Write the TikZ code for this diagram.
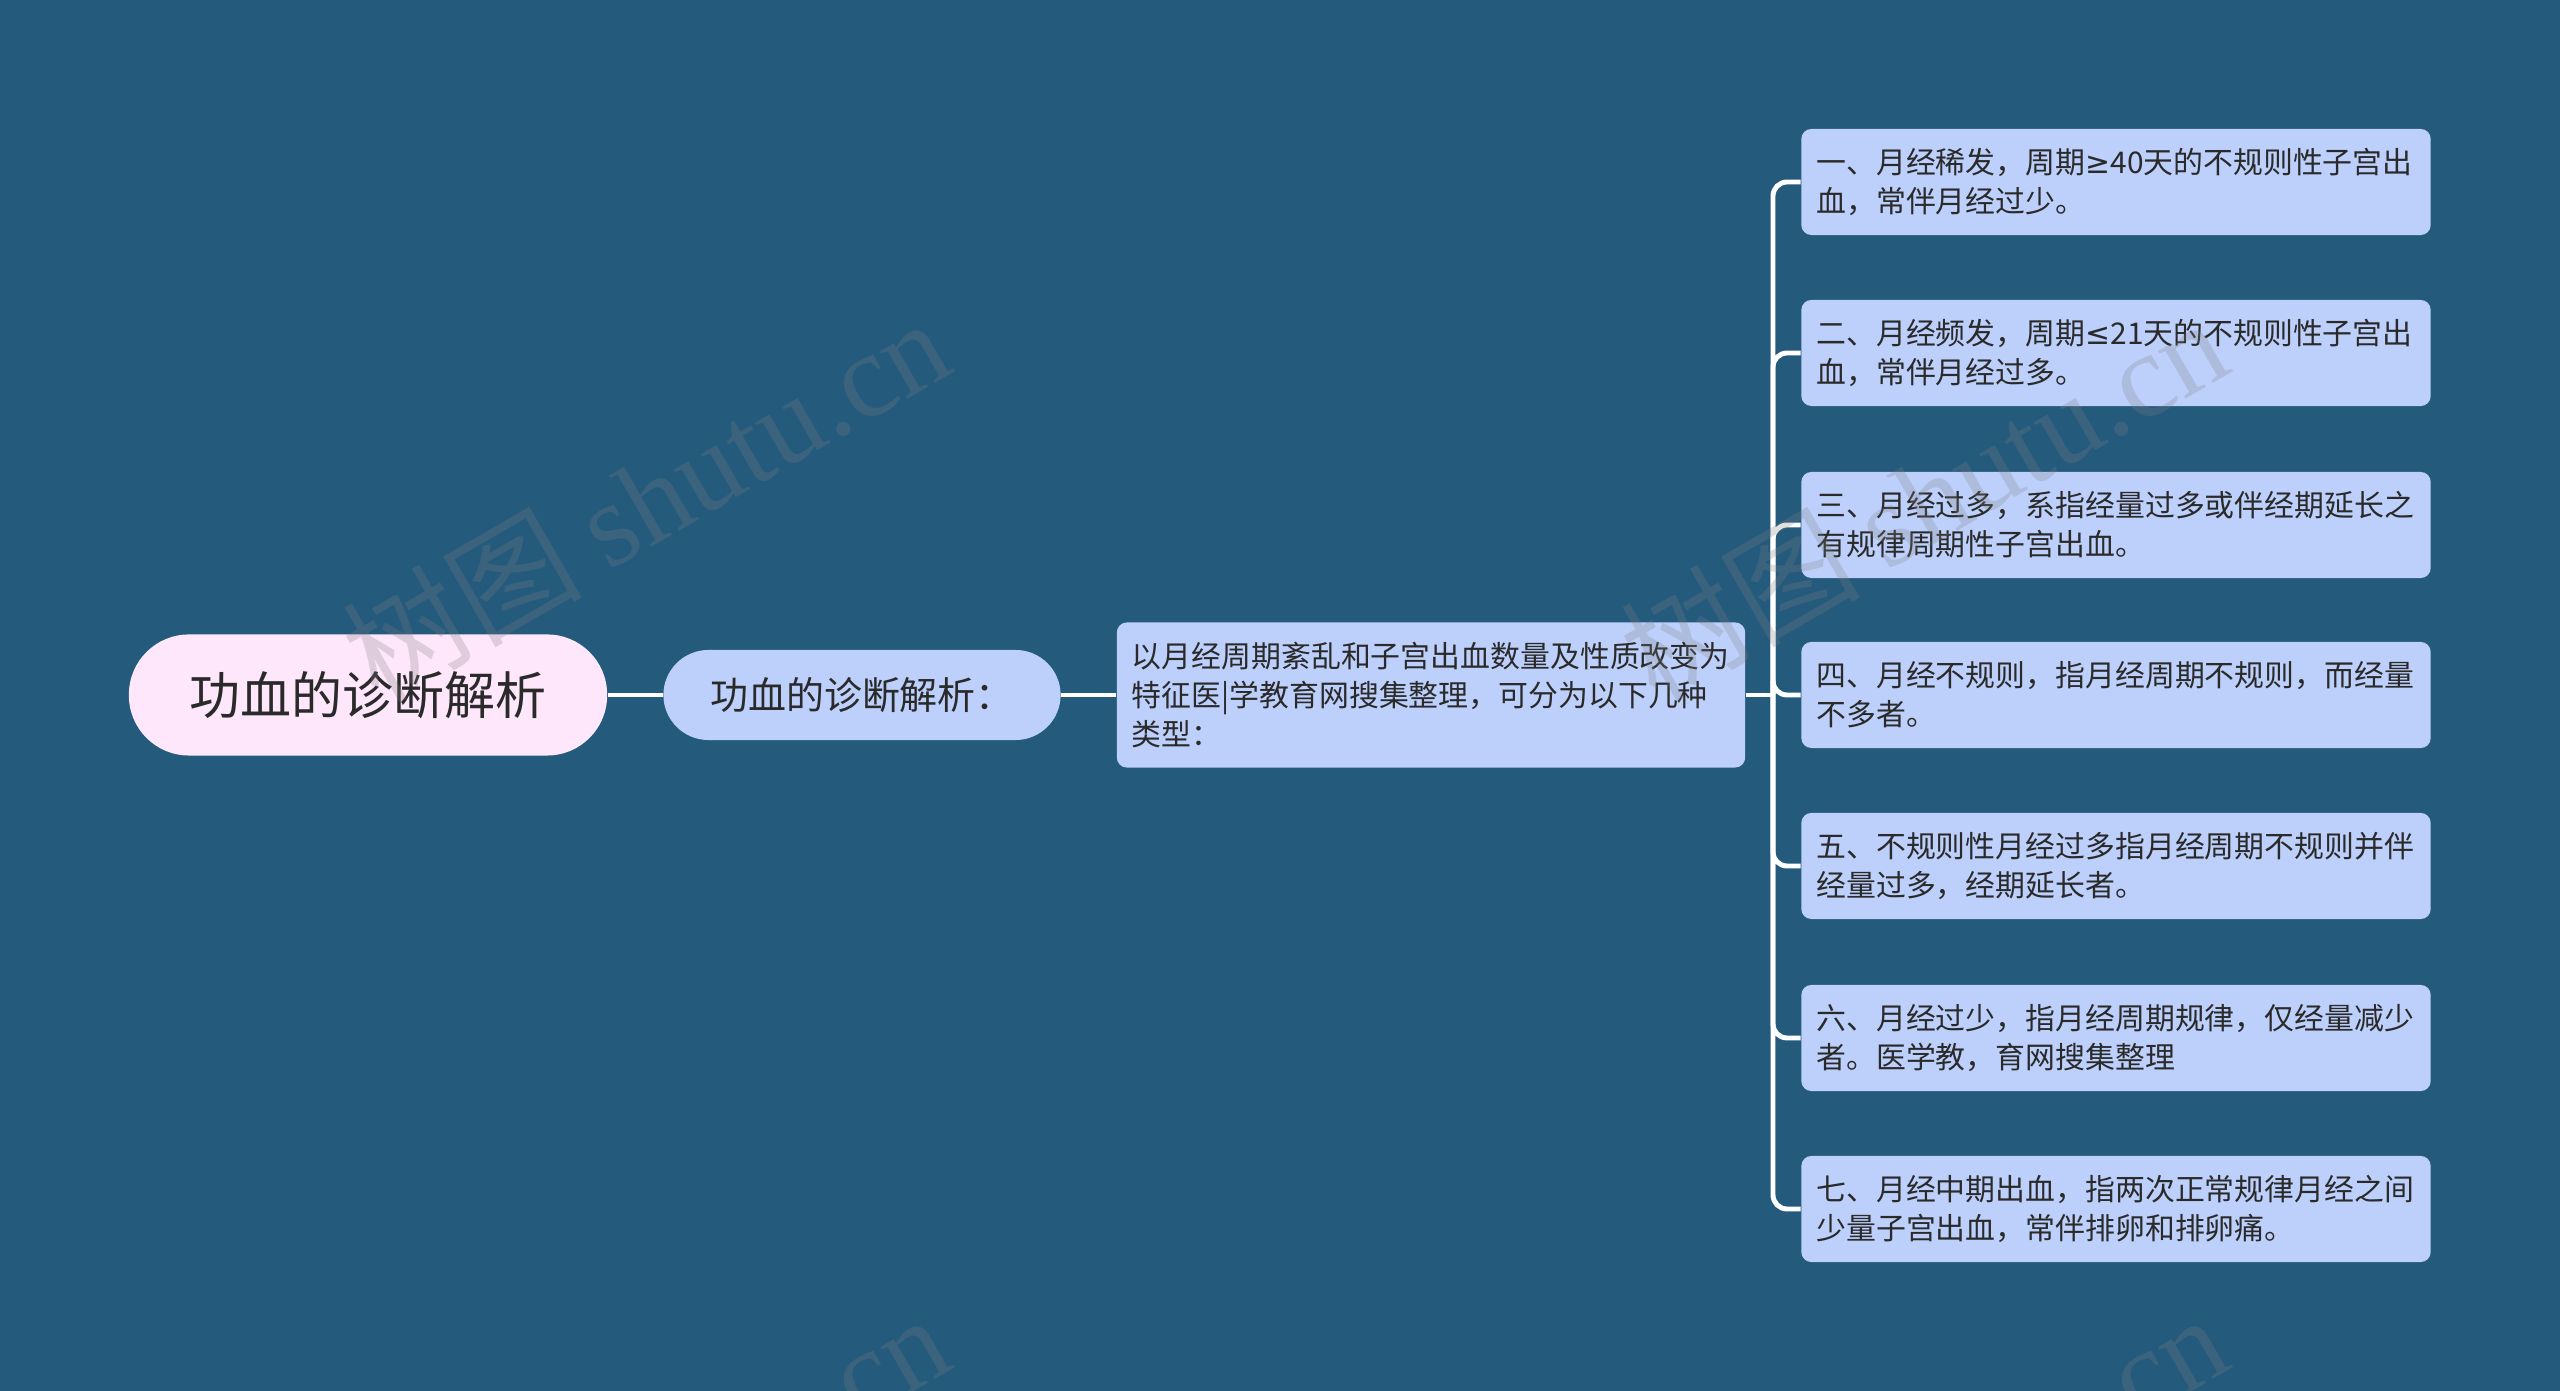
\documentclass[tikz,border=0pt]{standalone}
\usepackage{fontspec}
\setmainfont{Noto Sans CJK SC}
\newfontfamily\wmfont{Liberation Serif}
\newfontfamily\wmcjk{Noto Sans CJK SC}
\newfontfamily\symfont{DejaVu Sans}
\definecolor{bgblue}{HTML}{245A7C}
\definecolor{leafblue}{HTML}{BDD0FB}
\definecolor{rootpink}{HTML}{FEE6FB}
\definecolor{txt}{HTML}{2A2A2A}
\begin{document}
\begin{tikzpicture}[x=0.01cm,y=0.01cm,
  conn/.style={draw=white,line width=1.4pt},
  leaf/.style={fill=leafblue,rounded corners=0.1cm,text width=5.99cm,inner xsep=0.15cm,
    minimum height=1.06cm,align=left,text=txt,font=\fontsize{8.5pt}{11pt}\selectfont},
  wm/.style={text=gray,opacity=0.25,rotate=30,font=\fontsize{34pt}{34pt}\selectfont}]
%canvas
\fill[bgblue](0,0)rectangle(2560,1391);
\clip(0,0)rectangle(2560,1391);
%main nodes
\node[fill=rootpink,rounded corners=0.6cm,minimum width=4.78cm,minimum height=1.21cm,
  text=txt,font=\fontsize{14.5pt}{16pt}\selectfont](root) at (368,696){功血的诊断解析};
\node[fill=leafblue,rounded corners=0.45cm,minimum width=3.97cm,minimum height=0.9cm,
  text=txt,font=\fontsize{10.8pt}{13pt}\selectfont](sub) at (862,696){功血的诊断解析：};
\node[leaf,text width=5.98cm,minimum height=1.45cm](desc) at (1431,696)
  {以月经周期紊乱和子宫出血数量及性质改变为\\特征医|学教育网搜集整理，可分为以下几种\\类型：};
\coordinate(fork) at (1773,696);
\draw[conn](root)--(sub);
\draw[conn](sub)--(desc);
\draw[conn](desc)--(fork);
%leaves
\foreach \i/\y/\txt in {
  1/1209/{一、月经稀发，周期{\symfont ≥}40天的不规则性子宫出\\血，常伴月经过少。},
  2/1038/{二、月经频发，周期{\symfont ≤}21天的不规则性子宫出\\血，常伴月经过多。},
  3/866/{三、月经过多，系指经量过多或伴经期延长之\\有规律周期性子宫出血。},
  4/696/{四、月经不规则，指月经周期不规则，而经量\\不多者。},
  5/525/{五、不规则性月经过多指月经周期不规则并伴\\经量过多，经期延长者。},
  6/353/{六、月经过少，指月经周期规律，仅经量减少\\者。医学教，育网搜集整理},
  7/182/{七、月经中期出血，指两次正常规律月经之间\\少量子宫出血，常伴排卵和排卵痛。}}{
  \node[leaf](type\i) at (2116,\y){\txt};
  \draw[conn,rounded corners=0.14cm](fork)|-(type\i.west);
}
%watermark
\foreach \wx/\wy in {645/893,1923/893,645/-103,1923/-103}
  \node[wm] at (\wx,\wy){\wmcjk 树图\ \wmfont shutu.cn};
\end{tikzpicture}
\end{document}
